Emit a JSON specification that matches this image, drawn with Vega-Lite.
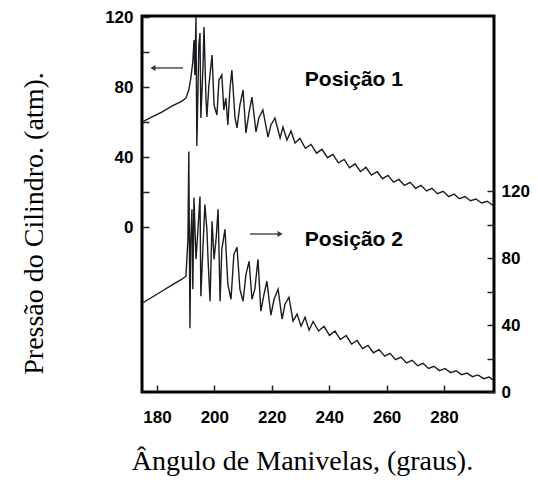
{
  "$schema": "https://vega.github.io/schema/vega-lite/v6.json",
  "width": 352,
  "height": 376,
  "autosize": "none",
  "padding": {"left": 142, "top": 16, "right": 44, "bottom": 96},
  "background": "white",
  "config": {
    "view": {"stroke": "black", "strokeWidth": 3},
    "axis": {
      "grid": false,
      "domain": false,
      "labelFont": "Liberation Sans",
      "labelFontWeight": "bold",
      "labelFontSize": 17,
      "labelColor": "black",
      "tickColor": "#222222",
      "tickWidth": 1.5,
      "tickSize": -7,
      "tickOpacity": 1,
      "titleFont": "Liberation Serif",
      "titleFontWeight": "normal",
      "titleFontSize": 28,
      "titleColor": "black"
    }
  },
  "datasets": {
    "p1": [
      {"a":174.8,"p":60.0},{"a":178.3,"p":62.9},{"a":181.7,"p":65.7},{"a":185.2,"p":69.1},{"a":188.7,"p":72.0},{"a":190.1,"p":73.7},{"a":191.1,"p":78.3},{"a":191.8,"p":85.1},{"a":192.5,"p":94.3},{"a":192.9,"p":106.9},{"a":193.2,"p":86.9},{"a":193.6,"p":120.0},{"a":193.9,"p":46.3},{"a":194.3,"p":78.3},{"a":194.6,"p":104.0},{"a":195.0,"p":110.9},{"a":195.3,"p":62.3},{"a":196.0,"p":89.7},{"a":196.4,"p":114.3},{"a":197.1,"p":72.6},{"a":197.4,"p":62.9},{"a":198.1,"p":81.1},{"a":199.2,"p":98.3},{"a":199.9,"p":69.7},{"a":200.9,"p":64.0},{"a":201.6,"p":84.0},{"a":202.6,"p":86.9},{"a":203.3,"p":66.9},{"a":204.0,"p":73.7},{"a":204.7,"p":58.3},{"a":205.4,"p":78.3},{"a":206.1,"p":89.7},{"a":207.2,"p":62.3},{"a":207.9,"p":56.6},{"a":208.9,"p":69.7},{"a":210.0,"p":78.3},{"a":211.0,"p":53.7},{"a":212.1,"p":65.7},{"a":213.1,"p":74.3},{"a":214.5,"p":54.3},{"a":215.5,"p":62.3},{"a":216.9,"p":66.9},{"a":218.7,"p":51.4},{"a":219.7,"p":58.3},{"a":221.1,"p":62.3},{"a":222.9,"p":50.9},{"a":223.9,"p":57.1},{"a":225.3,"p":49.7},{"a":226.7,"p":54.9},{"a":228.1,"p":48.0},{"a":229.8,"p":50.6},{"a":231.7,"p":45.0},{"a":233.7,"p":47.2},{"a":235.6,"p":42.2},{"a":237.5,"p":44.4},{"a":239.4,"p":39.6},{"a":241.3,"p":41.5},{"a":243.2,"p":36.7},{"a":245.2,"p":38.6},{"a":247.1,"p":33.8},{"a":249.0,"p":36.1},{"a":250.9,"p":31.7},{"a":252.8,"p":34.1},{"a":254.7,"p":29.7},{"a":256.7,"p":31.6},{"a":258.6,"p":27.6},{"a":260.5,"p":29.5},{"a":262.4,"p":25.6},{"a":264.3,"p":27.2},{"a":266.2,"p":23.8},{"a":268.2,"p":25.5},{"a":270.1,"p":22.1},{"a":272.0,"p":23.8},{"a":273.9,"p":20.6},{"a":275.8,"p":22.1},{"a":277.7,"p":19.0},{"a":279.7,"p":20.4},{"a":281.6,"p":17.4},{"a":283.5,"p":18.8},{"a":285.4,"p":16.2},{"a":287.3,"p":17.4},{"a":289.2,"p":15.0},{"a":291.1,"p":16.0},{"a":293.1,"p":13.7},{"a":295.0,"p":14.7},{"a":297.1,"p":12.3}
    ],
    "p2": [
      {"a":174.8,"q":53.1},{"a":178.3,"q":56.7},{"a":181.7,"q":60.3},{"a":185.2,"q":63.9},{"a":188.7,"q":67.5},{"a":190.1,"q":69.3},{"a":190.8,"q":91.3},{"a":191.1,"q":143.9},{"a":191.5,"q":38.2},{"a":191.8,"q":91.3},{"a":192.2,"q":109.3},{"a":192.5,"q":61.5},{"a":192.9,"q":116.4},{"a":193.6,"q":79.4},{"a":194.3,"q":97.3},{"a":195.0,"q":117.0},{"a":195.3,"q":57.3},{"a":196.0,"q":85.4},{"a":196.7,"q":112.2},{"a":197.4,"q":97.3},{"a":197.8,"q":79.4},{"a":198.5,"q":54.3},{"a":199.2,"q":102.1},{"a":199.9,"q":79.4},{"a":200.6,"q":91.3},{"a":201.3,"q":109.3},{"a":202.0,"q":54.3},{"a":202.6,"q":85.4},{"a":203.7,"q":97.3},{"a":204.7,"q":64.5},{"a":205.8,"q":55.5},{"a":206.8,"q":82.4},{"a":207.9,"q":86.6},{"a":208.9,"q":61.5},{"a":210.0,"q":54.3},{"a":211.0,"q":70.4},{"a":212.1,"q":78.2},{"a":213.1,"q":55.5},{"a":214.1,"q":61.5},{"a":215.2,"q":79.4},{"a":216.2,"q":48.4},{"a":217.3,"q":58.5},{"a":218.3,"q":66.3},{"a":219.7,"q":46.0},{"a":220.8,"q":55.5},{"a":222.2,"q":61.5},{"a":223.6,"q":43.6},{"a":224.6,"q":52.5},{"a":226.0,"q":56.7},{"a":227.4,"q":42.4},{"a":228.8,"q":46.6},{"a":230.2,"q":39.4},{"a":231.6,"q":44.8},{"a":233.0,"q":37.0},{"a":234.4,"q":42.2},{"a":236.3,"q":36.5},{"a":238.2,"q":39.3},{"a":240.1,"q":33.9},{"a":242.0,"q":36.5},{"a":243.9,"q":31.4},{"a":245.9,"q":33.8},{"a":247.8,"q":28.7},{"a":249.7,"q":30.8},{"a":251.6,"q":26.0},{"a":253.5,"q":27.9},{"a":255.4,"q":23.5},{"a":257.4,"q":25.4},{"a":259.3,"q":21.4},{"a":261.2,"q":23.1},{"a":263.1,"q":19.3},{"a":265.0,"q":20.9},{"a":266.9,"q":17.4},{"a":268.9,"q":19.0},{"a":270.8,"q":15.7},{"a":272.7,"q":17.2},{"a":274.6,"q":14.1},{"a":276.5,"q":15.4},{"a":278.4,"q":12.8},{"a":280.3,"q":14.1},{"a":282.3,"q":11.6},{"a":284.2,"q":12.7},{"a":286.1,"q":10.4},{"a":288.0,"q":11.3},{"a":289.9,"q":9.2},{"a":291.8,"q":10.2},{"a":293.8,"q":8.0},{"a":295.7,"q":9.0},{"a":297.1,"q":7.1}
    ],
    "arrows": [
      {"a":178.6,"a2":189.1,"p":90.9,"dir":"left"},
      {"a":212.4,"a2":222.9,"p":-4.0,"dir":"right"}
    ],
    "labels": [
      {"a":248.6,"p":84.0,"t":"Posição 1"},
      {"a":248.6,"p":-7.4,"t":"Posição 2"}
    ]
  },
  "layer": [
    {
      "encoding": {
        "x": {
          "field": "a", "type": "quantitative",
          "scale": {"domain": [174.8, 297.4], "nice": false, "zero": false},
          "axis": {"values": [180, 200, 220, 240, 260, 280], "labelPadding": 24, "title": "Ângulo de Manivelas, (graus).", "titlePadding": 22, "titleX": 160, "zindex": 1}
        },
        "y": {
          "field": "p", "type": "quantitative",
          "scale": {"domain": [-94.3, 120.6], "nice": false, "zero": false},
          "axis": {"values": [0, 20, 40, 60, 80, 100, 120], "labelExpr": "datum.value % 40 == 0 ? datum.label : ''", "labelPadding": 16, "title": "Pressão do Cilindro. (atm).", "titlePadding": 56, "titleY": 207, "zindex": 1}
        }
      },
      "layer": [
        {"data": {"name": "p1"}, "mark": {"type": "line", "color": "#1e1a20", "strokeWidth": 1.4}},
        {"data": {"name": "arrows"}, "mark": {"type": "rule", "color": "#333333", "strokeWidth": 1.3}, "encoding": {"x2": {"field": "a2"}}},
        {"data": {"name": "arrows"}, "transform": [{"filter": "datum.dir == 'left'"}], "mark": {"type": "point", "shape": "triangle-left", "filled": true, "color": "#333333", "size": 35, "opacity": 1}},
        {"data": {"name": "arrows"}, "transform": [{"filter": "datum.dir == 'right'"}], "mark": {"type": "point", "shape": "triangle-right", "filled": true, "color": "#333333", "size": 35, "opacity": 1}, "encoding": {"x": {"field": "a2", "type": "quantitative"}}},
        {"data": {"name": "labels"}, "mark": {"type": "text", "font": "Liberation Sans", "fontWeight": "bold", "fontSize": 21, "color": "black", "align": "center", "baseline": "middle"}, "encoding": {"text": {"field": "t"}}}
      ]
    },
    {
      "data": {"name": "p2"},
      "mark": {"type": "line", "color": "#1e1a20", "strokeWidth": 1.4},
      "encoding": {
        "x": {
          "field": "a", "type": "quantitative",
          "scale": {"domain": [174.8, 297.4], "nice": false, "zero": false},
          "axis": {"values": [180, 200, 220, 240, 260, 280], "labelPadding": 24, "title": "Ângulo de Manivelas, (graus).", "titlePadding": 22, "titleX": 160, "zindex": 1}
        },
        "y": {
          "field": "q", "type": "quantitative",
          "scale": {"domain": [0, 225], "nice": false, "zero": false},
          "axis": {"orient": "right", "values": [0, 20, 40, 60, 80, 100, 120], "labelExpr": "datum.value % 40 == 0 ? datum.label : ''", "labelPadding": 14, "title": null, "zindex": 1}
        }
      }
    }
  ],
  "resolve": {"scale": {"y": "independent"}, "axis": {"y": "independent"}}
}
